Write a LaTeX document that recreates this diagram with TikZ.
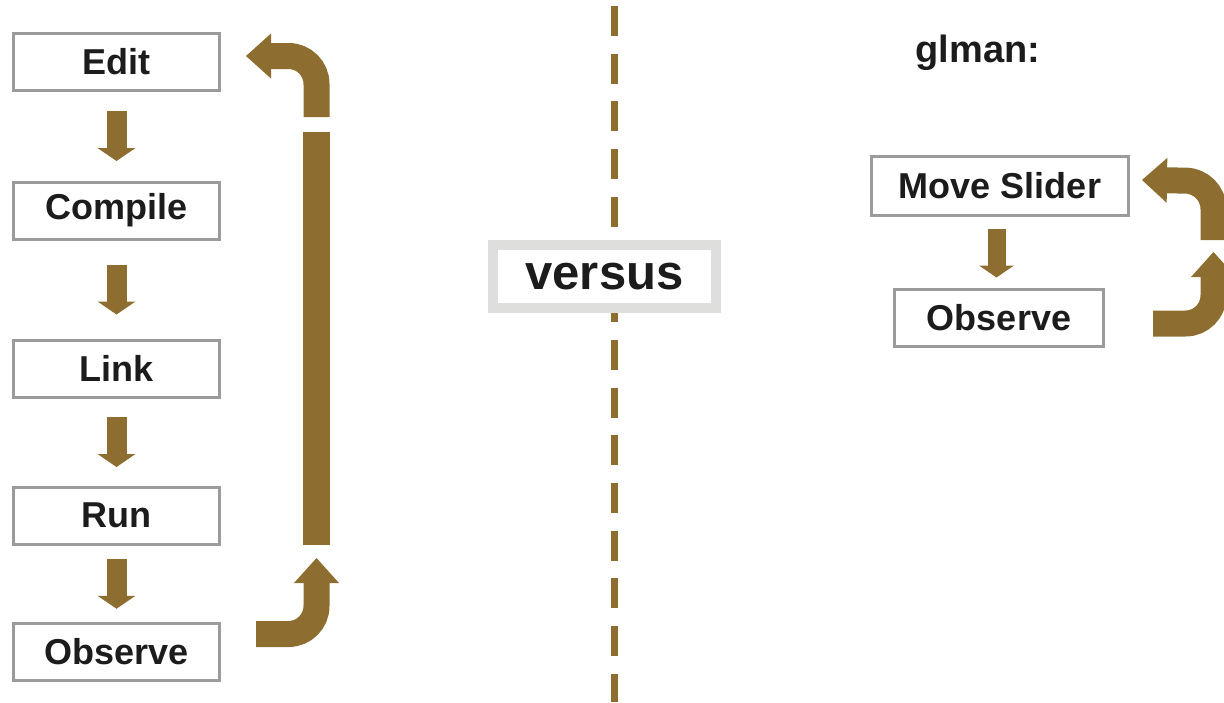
\documentclass[tikz,border=0pt]{standalone}
\usepackage{fontspec}
\setmainfont{Liberation Sans}
\usetikzlibrary{arrows.meta,calc}
\definecolor{loopbrown}{RGB}{141,110,48}
\definecolor{boxgray}{RGB}{155,155,155}
\definecolor{versusgray}{RGB}{222,222,220}
\definecolor{inkblack}{RGB}{28,28,28}

\begin{document}
\begin{tikzpicture}[x=1pt,y=-1pt,
  stepbox/.style={draw=boxgray, line width=3pt, fill=white, inner sep=0pt,
    minimum width=206pt, minimum height=57pt,
    font=\fontsize{36}{40}\selectfont\bfseries, text=inkblack},
  downarrow/.style={draw=loopbrown, line width=20pt,
    -{Triangle[width=38pt,length=13pt,line width=0pt]}},
  looparrow/.style={draw=loopbrown, line width=26pt, rounded corners=28pt,
    -{Triangle[width=45pt,length=25pt,line width=0pt]}},
  loopbar/.style={draw=loopbrown, line width=27pt},
  divider/.style={draw=loopbrown, line width=7pt, dash pattern=on 30pt off 17.7pt},
]
\useasboundingbox (0,0) rectangle (1224,702);
\begin{scope}
\clip (0,0) rectangle (1224,702);

% dashed divider between the two workflows
\coordinate (divtop) at (614,6);
\coordinate (divbot) at (614,702);
\draw[divider] (divtop) -- (divbot);

% classic edit-compile-run cycle
\node[stepbox] (edit)     at (116.5,61.5)  {Edit};
\node[stepbox] (compile)  at (116.5,210.5) {Compile};
\node[stepbox] (link)     at (116.5,368.5) {Link};
\node[stepbox] (run)      at (116.5,515.5) {Run};
\node[stepbox] (observeL) at (116.5,652)   {Observe};

\foreach \a/\b in {edit/compile, compile/link, link/run, run/observeL}{
  \draw[downarrow] ($(\a.south)!.5!(\b.north)+(0,-25)$) -- ($(\a.south)!.5!(\b.north)+(0,25)$);
}

% feedback loop back to Edit
\coordinate (lbStart) at ($(observeL.east)+(35,-18)$);
\coordinate (lbCorner) at (316.5,634);
\coordinate (lbTip) at (316.5,558);
\draw[looparrow] (lbStart) -- (lbCorner) -- (lbTip);
\coordinate (barBot) at (316.5,545);
\coordinate (barTop) at (316.5,132);
\draw[loopbar] (barBot) -- (barTop);
\coordinate (ltStart) at (316.5,117);
\coordinate (ltCorner) at (316.5,56);
\coordinate (ltTip) at ($(edit.east)+(25,-5.5)$);
\draw[looparrow] (ltStart) -- (ltCorner) -- (ltTip);

% versus label on the divider
\node[draw=versusgray, line width=10pt, fill=white, inner sep=0pt,
  minimum width=223pt, minimum height=63pt,
  font=\fontsize{49}{52}\selectfont\bfseries, text=inkblack] (versus) at (604.5,276.5) {versus};

% glman workflow
\node[font=\fontsize{38}{42}\selectfont\bfseries, text=inkblack, anchor=base] (glman) at (978,62) {glman:};
\node[stepbox, minimum width=257pt, minimum height=59pt] (slider) at (1000,186) {Move Slider};
\node[stepbox, minimum width=209pt] (observeR) at (999,318) {Observe};
\draw[downarrow, line width=18pt, -{Triangle[width=35pt,length=12pt,line width=0pt]}]
  ($(slider.south)!.5!(observeR.north)+(-3,-24)$) -- ($(slider.south)!.5!(observeR.north)+(-3,25)$);

\coordinate (rbStart) at ($(observeR.east)+(48,5.5)$);
\coordinate (rbCorner) at (1213.5,323.5);
\coordinate (rbTip) at (1213.5,252);
\draw[looparrow] (rbStart) -- (rbCorner) -- (rbTip);
\coordinate (rtStart) at (1213.5,240);
\coordinate (rtCorner) at (1213.5,181);
\coordinate (rtTip) at ($(slider.east)+(12,-6)$);
\draw[looparrow] (rtStart) -- (rtCorner) -- (rtTip);
\end{scope}
\end{tikzpicture}
\end{document}
